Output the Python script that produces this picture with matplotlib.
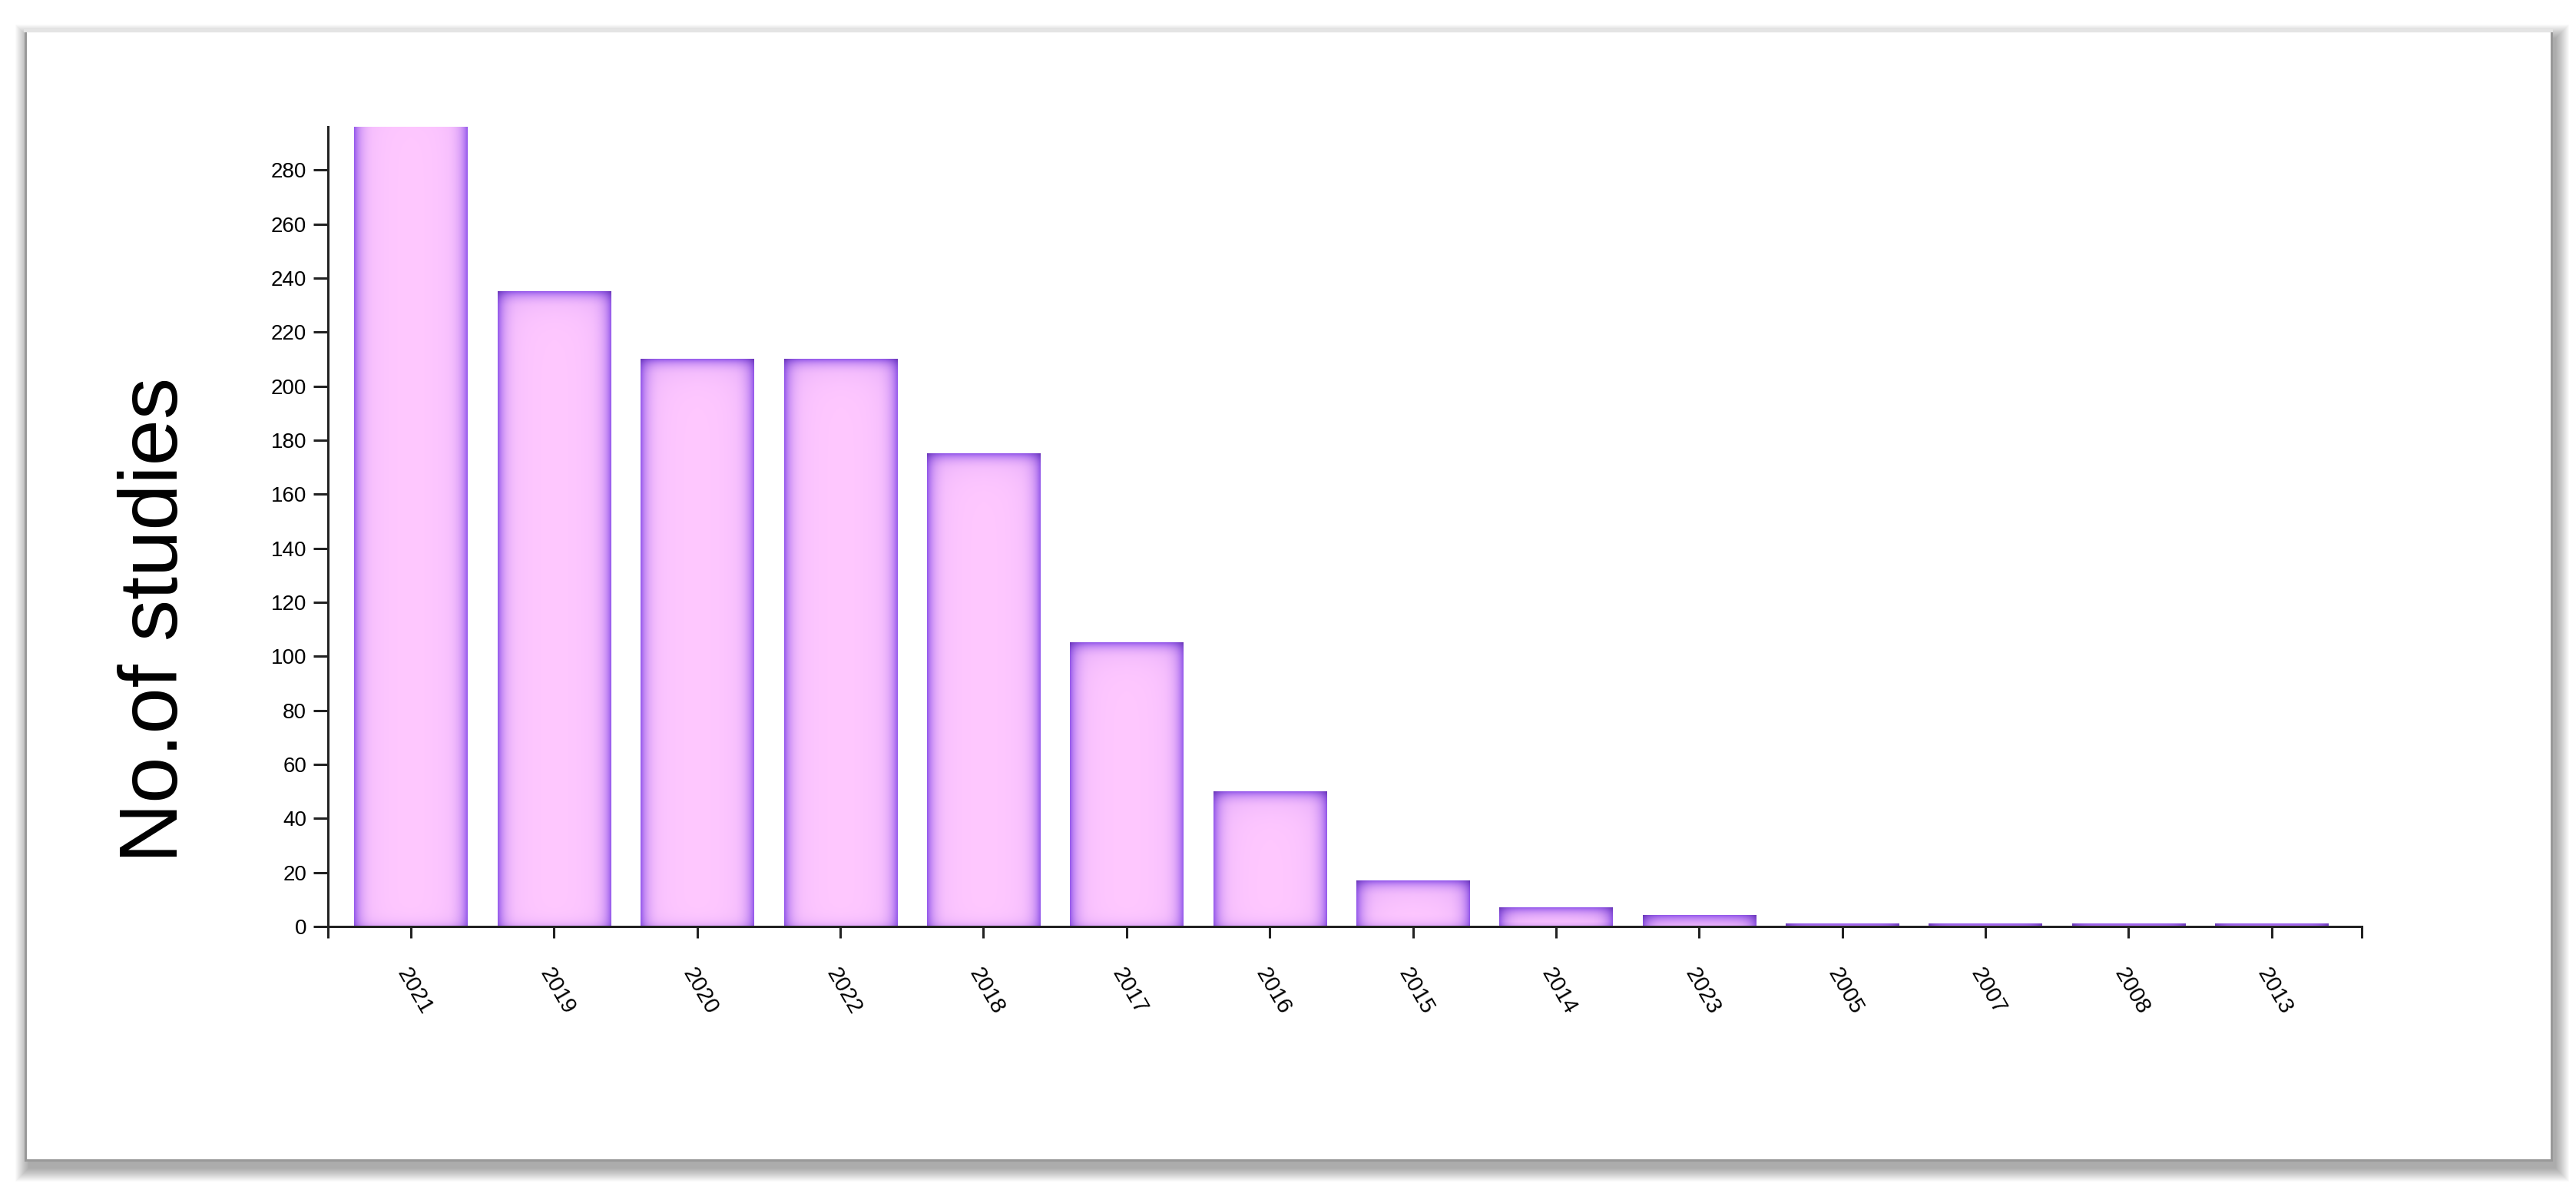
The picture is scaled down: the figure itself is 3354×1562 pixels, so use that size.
import numpy as np
import matplotlib
matplotlib.use('Agg')
import matplotlib.pyplot as plt
from matplotlib.patches import Rectangle

plt.rcParams.update({'font.family': ['Liberation Sans', 'DejaVu Sans']})

years = ['2021', '2019', '2020', '2022', '2018', '2017', '2016', '2015', '2014', '2023',
         '2005', '2007', '2008', '2013']
studies = [310, 235, 210, 210, 175, 105, 50, 17, 7, 4, 1, 1, 1, 1]

PINK = np.array([255, 200, 255]) / 255
PURPLE = np.array([145, 85, 235]) / 255
DARK = np.array([80, 35, 150]) / 255

W, H, DPI = 3354, 1562, 100
fig = plt.figure(figsize=(W / DPI, H / DPI), dpi=DPI)
fig.patch.set_facecolor('white')

# card with soft drop shadow
cx0, cx1 = 33 / W, 3322 / W
cy0, cy1 = 52 / H, 1522 / H
for k in range(18, 0, -1):
    ex, ey = k / W, k / H
    fig.patches.append(Rectangle((cx0 - ex + 5 / W, cy0 - ey - 10 / H), (cx1 - cx0) + 2 * ex,
                                 (cy1 - cy0) + 2 * ey, transform=fig.transFigure,
                                 facecolor='black', edgecolor='none', alpha=0.02, zorder=0))
fig.patches.append(Rectangle((cx0, cy0), cx1 - cx0, cy1 - cy0, transform=fig.transFigure,
                             facecolor='white', edgecolor='#999999', linewidth=2.2, zorder=1))
fig.lines.append(plt.Line2D([cx0, cx1], [cy1, cy1], transform=fig.transFigure,
                            color='#e4e4e4', linewidth=3, zorder=2))

ax = fig.add_axes([427 / W, 356 / H, (3075 - 427) / W, (1206 - 165) / H])
ax.set_facecolor('none')
ax.set_zorder(3)

x = np.arange(len(years))
xlo, xhi = -0.58, len(years) - 1 + 0.63
ytop = 296
bw = 0.79

ax_w_px = (3075 - 427)
ax_h_px = (1206 - 165)
px_x = ax_w_px / (xhi - xlo)
px_y = ax_h_px / ytop


def bar_image(h_px, w_px):
    rows = max(int(round(h_px)), 2)
    cols = max(int(round(w_px)), 2)
    u = np.arange(cols) + 0.5
    v = np.arange(rows) + 0.5  # row 0 = top
    dx = np.minimum(u, cols - u)
    tx = np.exp(-dx / 9.0)
    tx = np.maximum(tx, 0.3 * np.exp(-dx / 16.0))
    ty = np.exp(-v / 8.0)
    ty = np.maximum(ty, 0.3 * np.exp(-v / 16.0))
    tb = 0.3 * np.exp(-(rows - v) / 6.0)
    ty = np.maximum(ty, tb)
    T = 1 - (1 - tx[None, :]) * (1 - ty[:, None])
    corner = (tx[None, :] * ty[:, None])
    img = PINK[None, None, :] * (1 - T[..., None]) + PURPLE[None, None, :] * T[..., None]
    img = img * (1 - 0.7 * corner[..., None]) + DARK[None, None, :] * 0.7 * corner[..., None]
    return np.clip(img, 0, 1)


for xi, val in zip(x, studies):
    img = bar_image(val * px_y, bw * px_x)
    ax.imshow(img, extent=(xi - bw / 2, xi + bw / 2, 0, val), aspect='auto',
              interpolation='bilinear', zorder=2, origin='upper')

ax.set_xlim(xlo, xhi)
ax.set_ylim(0, ytop)

for s in ['top', 'right']:
    ax.spines[s].set_visible(False)
for s in ['left', 'bottom']:
    ax.spines[s].set_color('#222222')
    ax.spines[s].set_linewidth(2.2)
    ax.spines[s].set_zorder(4)

ax.set_yticks(np.arange(0, 281, 20))
ax.tick_params(axis='y', direction='out', length=14, width=2.2, color='#222222',
               labelsize=20, pad=6)
ax.set_xticks(x)
ax.set_xticklabels(years, rotation=-60, ha='left', va='top', rotation_mode='anchor')
ax.tick_params(axis='x', which='major', direction='out', length=11, width=2.2,
               color='#222222', labelsize=21, pad=24)
ax.set_xticks([xlo, xhi], minor=True)
ax.tick_params(axis='x', which='minor', direction='out', length=11, width=2.2,
               color='#222222', labelbottom=False)

fig.text(203 / W, 1 - 807 / H, 'No.of studies', rotation=90, fontsize=78,
         ha='center', va='center', color='black')

fig.savefig('out.png', dpi=DPI)
